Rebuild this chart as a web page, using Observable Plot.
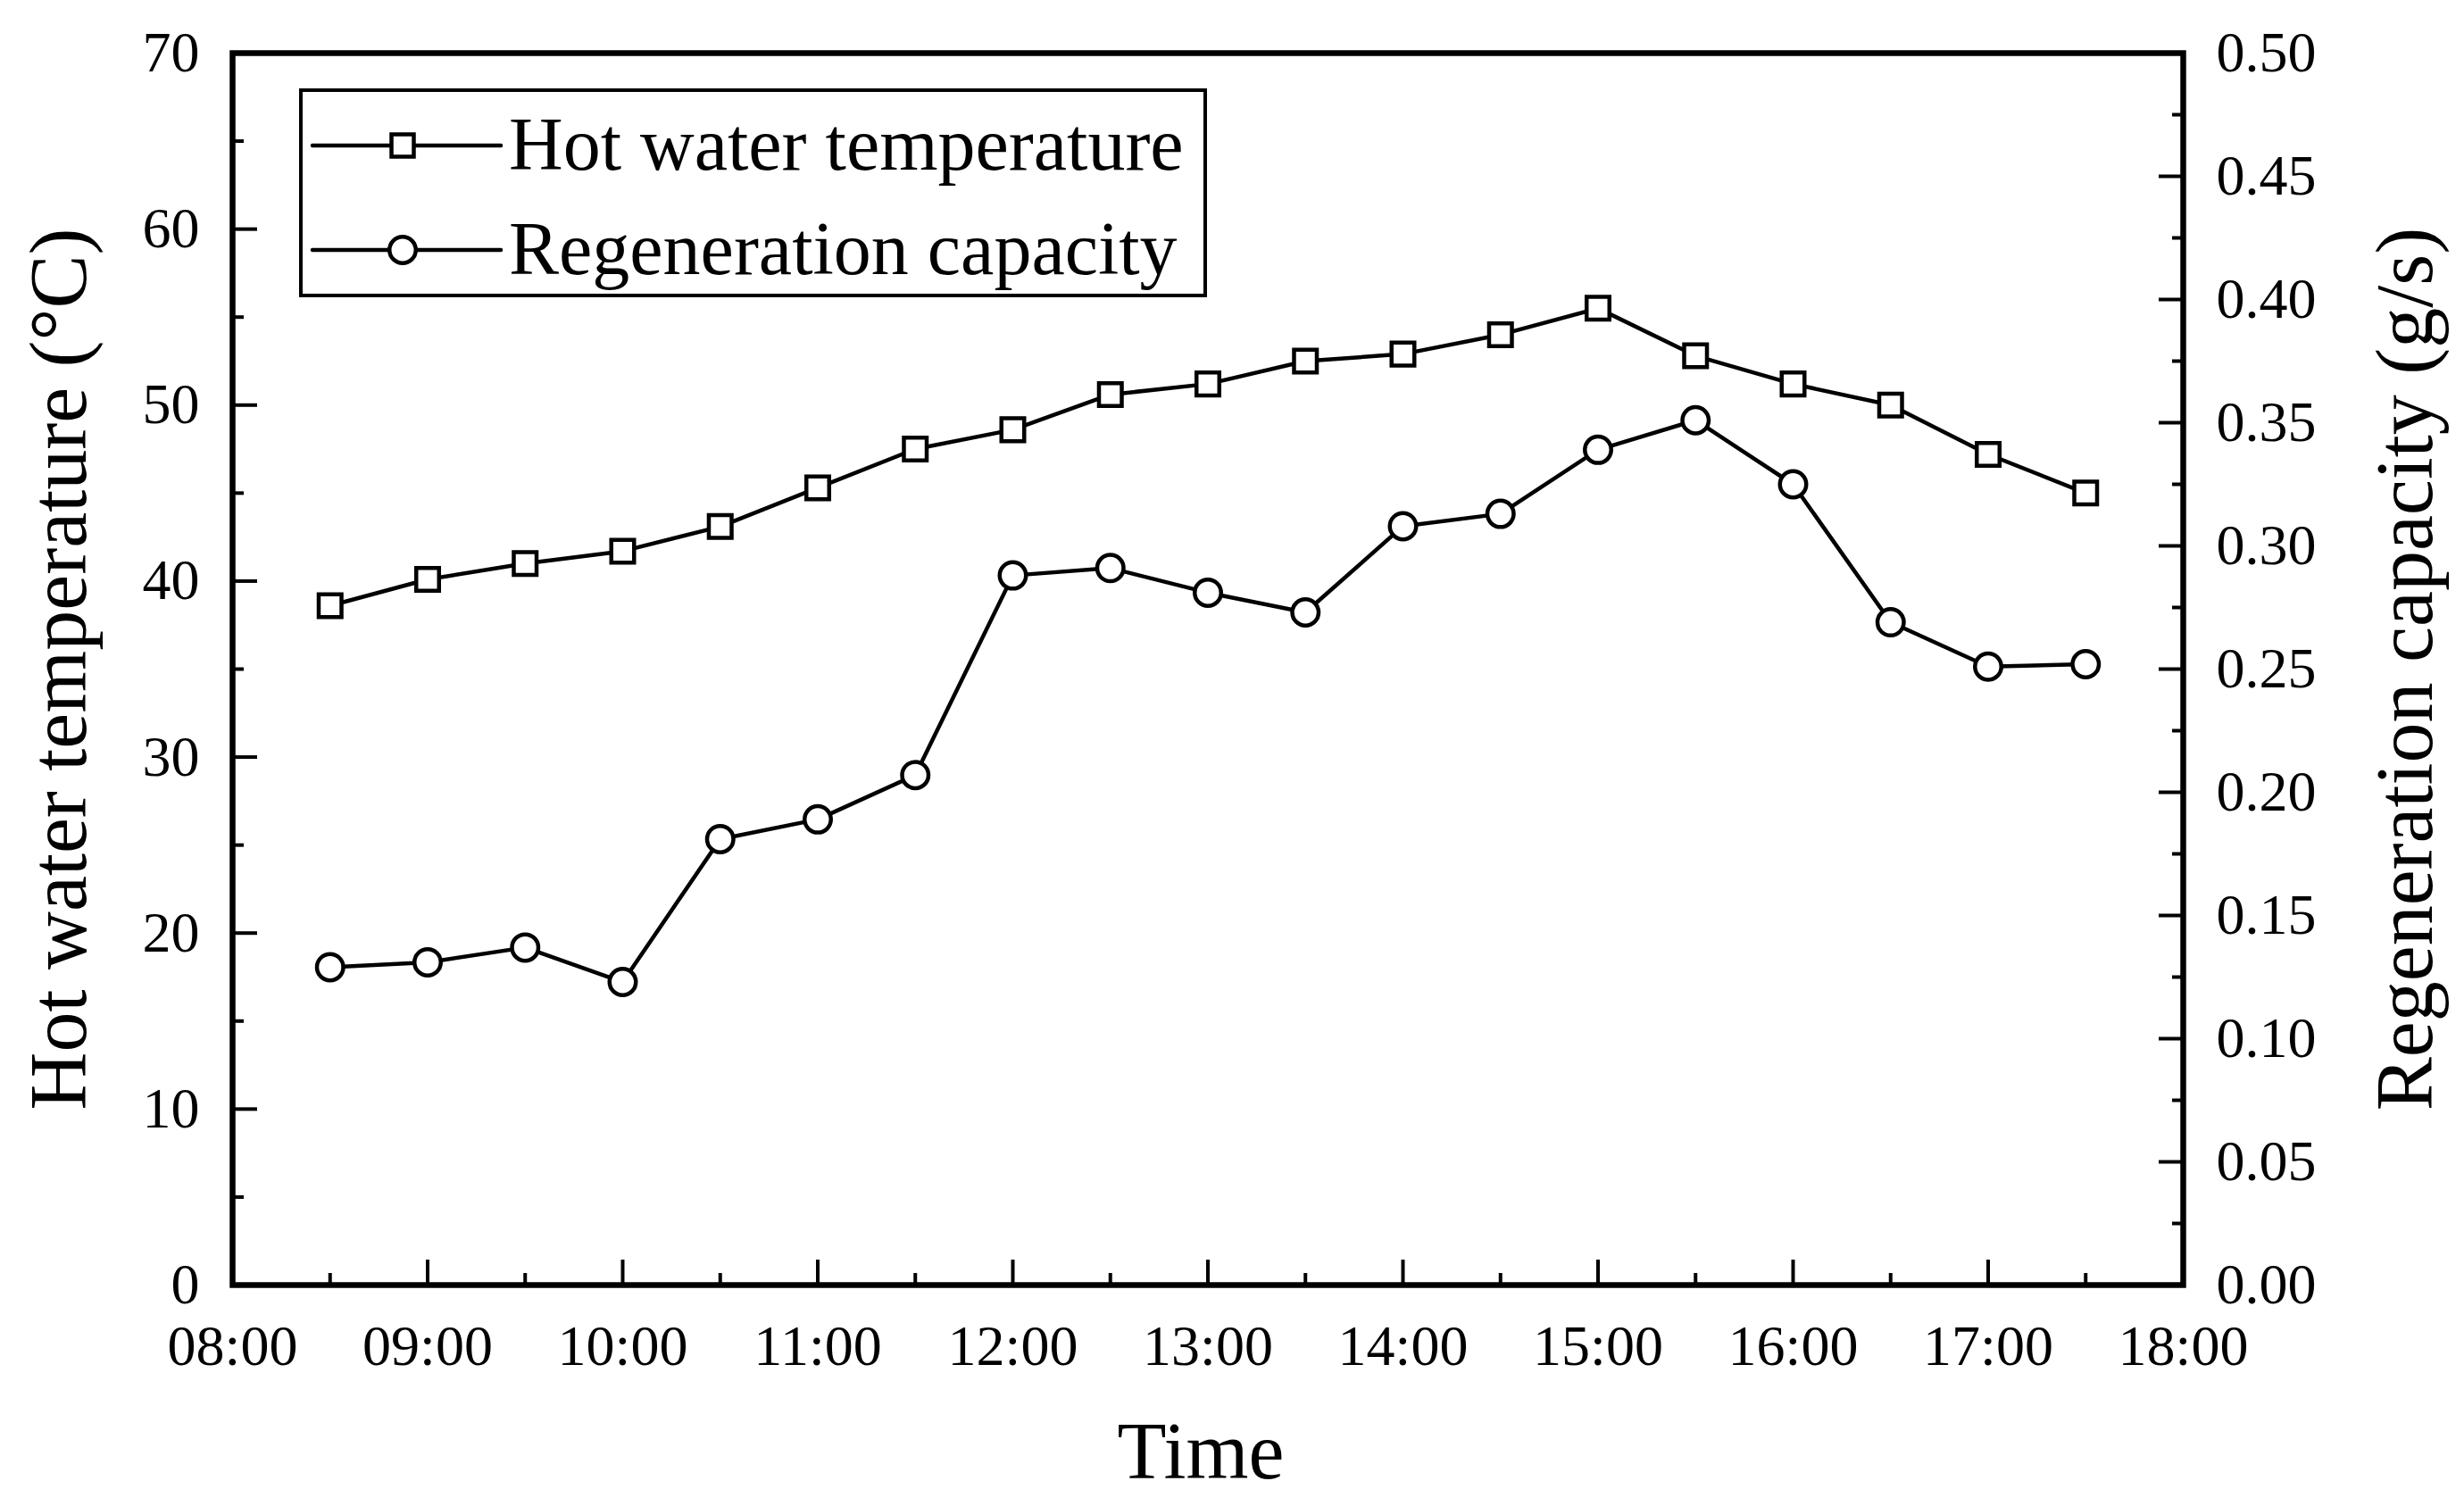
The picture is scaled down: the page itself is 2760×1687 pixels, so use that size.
<!DOCTYPE html>
<html>
<head>
<meta charset="utf-8">
<script src="https://cdn.jsdelivr.net/npm/d3@7"></script>
<script src="https://cdn.jsdelivr.net/npm/@observablehq/plot@0.6"></script>
<style>
  body { margin: 0; background: #fff; }
  #chart { position: relative; width: 2760px; height: 1687px; font-family: "Liberation Serif", serif; }
  #legend { position: absolute; left: 335px; top: 99px; }
</style>
</head>
<body>
<div id="chart"></div>
<script>
// time of each reading
const times = ["08:30", "09:00", "09:30", "10:00", "10:30", "11:00", "11:30", "12:00", "12:30", "13:00",
               "13:30", "14:00", "14:30", "15:00", "15:30", "16:00", "16:30", "17:00", "17:30"]
// hot water temperature (°C), left axis
const hotWater = [38.6, 40.1, 41.0, 41.7, 43.1, 45.3, 47.5, 48.6, 50.6, 51.2,
                  52.5, 52.9, 54.0, 55.5, 52.8, 51.2, 50.0, 47.2, 45.0]
// regeneration capacity (g/s), right axis
const regenCapacity = [0.129, 0.131, 0.137, 0.123, 0.181, 0.189, 0.207, 0.288, 0.291, 0.281,
                       0.273, 0.308, 0.313, 0.339, 0.351, 0.325, 0.269, 0.251, 0.252]

const legendItems = [
  {label: "Hot water temperature", symbol: "square"},
  {label: "Regeneration capacity", symbol: "circle"}
]

const hour = t => { const [h, m] = t.split(":").map(Number); return h + m / 60 }
const data = times.map((t, i) => ({time: hour(t), temp: hotWater[i], cap: regenCapacity[i]}))

// right axis is drawn on the left y scale: 0.50 g/s <-> 70 °C
const k = 70 / 0.5
const fmtTime = h => String(h).padStart(2, "0") + ":00"

const ink = {stroke: "black", strokeWidth: 4}

const chart = Plot.plot({
  width: 2760,
  height: 1687,
  marginLeft: 260,
  marginRight: 315,
  marginTop: 59,
  marginBottom: 248,
  style: {fontFamily: "Liberation Serif", fontSize: "64px", color: "black", background: "white"},
  x: {domain: [8, 18]},
  y: {domain: [0, 70]},
  marks: [
    // bottom axis, inward ticks
    Plot.axisX(d3.range(8, 19), {...ink, tickSize: -28, tickPadding: 72, tickFormat: fmtTime, label: null}),
    Plot.axisX(d3.range(8.5, 18, 1), {...ink, tickSize: -13, text: null, label: null}),
    // left axis
    Plot.axisY(d3.range(0, 71, 10), {...ink, anchor: "left", tickSize: -28, tickPadding: 65, label: null}),
    Plot.axisY(d3.range(5, 70, 10), {...ink, anchor: "left", tickSize: -13, text: null, label: null}),
    // right axis (g/s)
    Plot.axisY(d3.range(0, 11).map(i => i * 0.05 * k), {...ink, anchor: "right", tickSize: -28, tickPadding: 65,
      tickFormat: d => (d / k).toFixed(2), label: null}),
    Plot.axisY(d3.range(0, 10).map(i => (0.025 + i * 0.05) * k), {...ink, anchor: "right", tickSize: -13, text: null, label: null}),

    // hot water temperature
    Plot.line(data, {x: "time", y: "temp", stroke: "black", strokeWidth: 4.5}),
    Plot.dot(data, {x: "time", y: "temp", symbol: "square", r: 14.4, stroke: "black", fill: "white", strokeWidth: 4.5}),
    // regeneration capacity
    Plot.line(data, {x: "time", y: d => d.cap * k, stroke: "black", strokeWidth: 4.5}),
    Plot.dot(data, {x: "time", y: d => d.cap * k, symbol: "circle", r: 14.75, stroke: "black", fill: "white", strokeWidth: 4.5}),

    Plot.frame({stroke: "black", strokeWidth: 6.5}),

    // axis titles
    Plot.text(["Hot water temperature (°C)"], {frameAnchor: "left", dx: -193, rotate: -90, fontSize: 90,
      textAnchor: "middle", lineAnchor: "middle"}),
    Plot.text(["Regeneration capacity (g/s)"], {frameAnchor: "right", dx: 250, rotate: -90, fontSize: 90,
      textAnchor: "middle", lineAnchor: "middle"}),
    Plot.text(["Time"], {frameAnchor: "bottom", dx: -8, dy: 188, fontSize: 90,
      textAnchor: "middle", lineAnchor: "middle"})
  ]
})

const root = d3.select("#chart")
root.append(() => chart)

// legend box inside the plot area
const legend = root.append("svg")
  .attr("id", "legend")
  .attr("width", 1020)
  .attr("height", 236)
legend.append("rect")
  .attr("x", 2).attr("y", 2).attr("width", 1013).attr("height", 230)
  .attr("fill", "white").attr("stroke", "black").attr("stroke-width", 4)

const row = legend.selectAll("g.item").data(legendItems).join("g")
  .attr("class", "item")
  .attr("transform", (d, i) => `translate(0, ${64 + i * 117})`)
row.append("line")
  .attr("x1", 15).attr("x2", 226)
  .attr("stroke", "black").attr("stroke-width", 4.5).attr("stroke-linecap", "round")
row.append("path")
  .attr("transform", "translate(116, 0)")
  .attr("d", d => d3.symbol(d.symbol === "square" ? d3.symbolSquare : d3.symbolCircle,
                           d.symbol === "square" ? 25 * 25 : Math.PI * 14.75 * 14.75)())
  .attr("fill", "white").attr("stroke", "black").attr("stroke-width", 4.5)
row.append("text")
  .attr("x", 235)
  .attr("dy", "0.32em")
  .attr("font-size", 84)
  .attr("font-family", "Liberation Serif")
  .text(d => d.label)
</script>
</body>
</html>
